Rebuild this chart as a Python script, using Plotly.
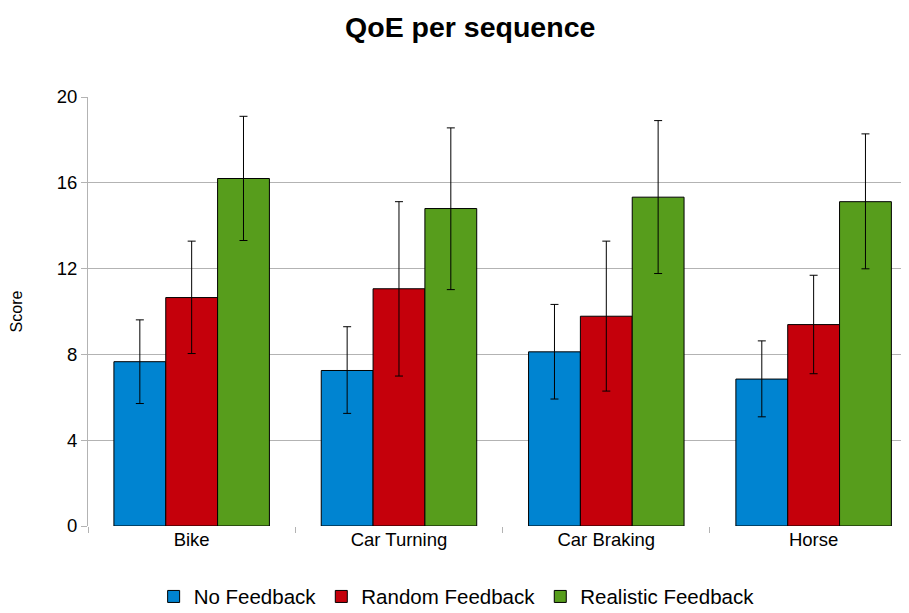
import plotly.graph_objects as go

# ── data ──────────────────────────────────────────────────────────────────────

sequences = ["Bike", "Car Turning", "Car Braking", "Horse"]

no_feedback = [7.66, 7.25, 8.12, 6.85]
no_feedback_hi = [9.61, 9.29, 10.33, 8.63]
no_feedback_lo = [5.71, 5.25, 5.92, 5.09]

random_feedback = [10.65, 11.06, 9.78, 9.39]
random_feedback_hi = [13.28, 15.12, 13.28, 11.69]
random_feedback_lo = [8.04, 6.99, 6.29, 7.10]

realistic_feedback = [16.20, 14.80, 15.33, 15.12]
realistic_feedback_hi = [19.10, 18.56, 18.90, 18.28]
realistic_feedback_lo = [13.31, 11.02, 11.77, 11.99]

y_ticks = [0, 4, 8, 12, 16, 20]

# ── figure ────────────────────────────────────────────────────────────────────

series = [
    ("No Feedback", no_feedback, no_feedback_hi, no_feedback_lo, "#0084d1"),
    ("Random Feedback", random_feedback, random_feedback_hi, random_feedback_lo, "#c5000b"),
    ("Realistic Feedback", realistic_feedback, realistic_feedback_hi, realistic_feedback_lo, "#579d1c"),
]

fig = go.Figure()
for name, vals, hi, lo, color in series:
    fig.add_trace(go.Bar(
        x=sequences, y=vals, name=name,
        marker=dict(color=color, line=dict(color="#000000", width=1)),
        error_y=dict(
            type="data", symmetric=False,
            array=[h - v for h, v in zip(hi, vals)],
            arrayminus=[v - l for v, l in zip(vals, lo)],
            color="#000000", thickness=1, width=4,
        ),
    ))

# page body adds an 8px offset, so the figure is sized to fit the window
fig.update_layout(
    width=901, height=605,
    margin=dict(l=80, r=0, t=89, b=87, autoexpand=False),
    paper_bgcolor="white", plot_bgcolor="white",
    font=dict(family="Liberation Sans, Arial, sans-serif", color="#000000", size=18),
    title=dict(text="<b>QoE per sequence</b>", x=0.513, xanchor="center",
               y=0.969, yanchor="middle", font=dict(size=28.5)),
    barmode="group", bargap=0.25, bargroupgap=0,
    legend=dict(orientation="h", x=0.449, xanchor="center", y=-0.118, yanchor="top",
                font=dict(size=20.5), itemwidth=30, tracegroupgap=0),
    showlegend=True,
)

fig.update_xaxes(
    range=[-0.5, 3.46], automargin=False,
    showline=False, showgrid=False,
    ticks="outside", tickson="boundaries", ticklen=6, tickcolor="#b3b3b3",
    tickfont=dict(size=18.5),
)
fig.update_yaxes(
    range=[0, 20], tickvals=y_ticks, automargin=False,
    showgrid=True, gridcolor="#b3b3b3", gridwidth=1,
    showline=True, linecolor="#b3b3b3", linewidth=1,
    ticks="outside", ticklen=6, tickcolor="#b3b3b3",
    tickfont=dict(size=18.5),
    title=dict(text="Score", font=dict(size=16), standoff=45),
    zeroline=False,
)

fig.write_html("out.html")
